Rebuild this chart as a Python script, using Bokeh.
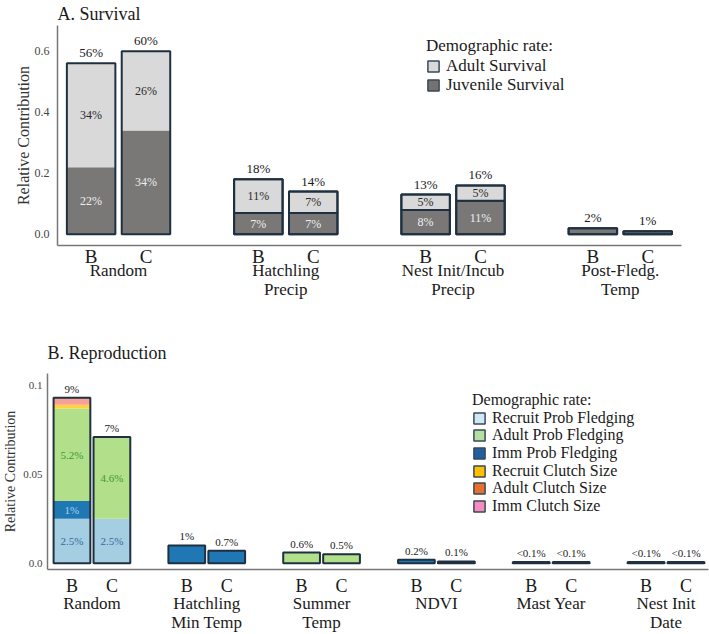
import numpy as np
from bokeh.plotting import figure
from bokeh.models import (ColumnDataSource, FixedTicker, LinearAxis, Legend,
                          LegendItem, Range1d)
from bokeh.layouts import column
from bokeh.embed import file_html
from bokeh.resources import INLINE
from bokeh.core.properties import value

SERIF = "Liberation Serif"
OUTLINE = "#1f3040"
TEXT = "#1a1a1a"

# ---------------- A. Survival ----------------
models = ["B", "C"]
surv_groups = ["Random", "Hatchling\nPrecip", "Nest Init/Incub\nPrecip", "Post-Fledg.\nTemp"]
# one entry per bar: (group 0, B), (group 0, C), (group 1, B), ...
juvenile_survival = [0.22, 0.34, 0.07, 0.07, 0.08, 0.11, 0.02, 0.01]
adult_survival = [0.34, 0.26, 0.11, 0.07, 0.05, 0.05, 0.0, 0.0]

# ---------------- B. Reproduction ----------------
repro_groups = ["Random", "Hatchling\nMin Temp", "Summer\nTemp", "NDVI", "Mast Year", "Nest Init\nDate"]
recruit_prob_fledging = [0.025, 0.025, 0, 0, 0, 0, 0, 0, 0.0007, 0.0007, 0.0007, 0.0007]
imm_prob_fledging = [0.010, 0, 0.010, 0.007, 0, 0, 0.002, 0.001, 0, 0, 0, 0]
adult_prob_fledging = [0.052, 0.046, 0, 0, 0.006, 0.005, 0, 0, 0, 0, 0, 0]
recruit_clutch_size = [0.002, 0, 0, 0, 0, 0, 0, 0, 0, 0, 0, 0]
adult_clutch_size = [0, 0, 0, 0, 0, 0, 0, 0, 0, 0, 0, 0]
imm_clutch_size = [0.004, 0, 0, 0, 0, 0, 0, 0, 0, 0, 0, 0]


def pct_total(v):
    if v < 0.001:
        return "<0.1%"
    if v >= 0.01:
        return f"{round(v * 100):d}%"
    return f"{v * 100:.1f}%"


def pct_seg(v):
    return f"{round(v * 100, 1):g}%"


def bar_positions(n_groups, dodge):
    xs, gi = [], []
    for g in range(n_groups):
        for d in (-dodge, dodge):
            xs.append(round(g + d, 4))
            gi.append(g)
    return xs, gi


def no_ticks(axis):
    axis.major_tick_out = 0
    axis.major_tick_in = 0
    axis.minor_tick_out = 0
    axis.minor_tick_in = 0


def style_axes(p, xs, groups, ylabel, yticks, ylabels, tick_size, lab_size,
               bc_size, grp_size, ylab_standoff, tick_standoff, bc_standoff, grp_standoff):
    p.xgrid.visible = False
    p.ygrid.visible = False
    p.outline_line_color = None

    yax = p.yaxis[0]
    yax.ticker = FixedTicker(ticks=yticks)
    yax.major_label_overrides = {t: s for t, s in zip(yticks, ylabels)}
    yax.axis_label = ylabel
    yax.axis_label_text_font = SERIF
    yax.axis_label_text_font_style = "normal"
    yax.axis_label_text_font_size = lab_size
    yax.axis_label_text_color = "#333333"
    yax.axis_label_standoff = ylab_standoff
    yax.major_label_text_font = SERIF
    yax.major_label_text_font_size = tick_size
    yax.major_label_text_color = "#444444"
    yax.major_label_standoff = tick_standoff
    no_ticks(yax)
    yax.axis_line_color = "#777777"
    yax.axis_line_width = 1.5

    xax = p.xaxis[0]
    xax.ticker = FixedTicker(ticks=xs)
    xax.major_label_overrides = {x: models[i % 2] for i, x in enumerate(xs)}
    xax.major_label_text_font = SERIF
    xax.major_label_text_font_size = bc_size
    xax.major_label_text_color = TEXT
    xax.major_label_standoff = bc_standoff
    no_ticks(xax)
    xax.axis_line_color = "#777777"
    xax.axis_line_width = 1.5

    gax = LinearAxis(ticker=FixedTicker(ticks=list(range(len(groups)))),
                     major_label_overrides={i: g for i, g in enumerate(groups)})
    gax.major_label_text_font = SERIF
    gax.major_label_text_font_size = grp_size
    gax.major_label_text_color = TEXT
    gax.major_label_text_line_height = 1.0
    gax.major_label_standoff = grp_standoff
    gax.axis_line_color = None
    no_ticks(gax)
    p.add_layout(gax, "below")


def draw_stack(p, xs, gi, series, colors, width, seg_line_alpha, outline_width):
    n = len(xs)
    base = np.zeros(n)
    for vals, col in zip(series, colors):
        vals = np.asarray(vals, dtype=float)
        keep = vals > 0
        src = ColumnDataSource(dict(
            x=[xs[i] for i in range(n) if keep[i]],
            bottom=base[keep],
            top=(base + vals)[keep],
            la=[seg_line_alpha(gi[i]) for i in range(n) if keep[i]],
        ))
        p.vbar(x="x", bottom="bottom", top="top", width=width, source=src,
               fill_color=col, line_color=OUTLINE, line_alpha="la",
               line_width=outline_width)
        base = base + vals
    # outline of each whole bar
    p.vbar(x=xs, bottom=0, top=base, width=width, fill_alpha=0,
           line_color=OUTLINE, line_width=outline_width)
    return base


def swatch(p, color):
    # legend key; its single point sits outside the visible x range
    return p.vbar(x=[-50], top=[0.0], width=0.1, fill_color=color,
                  line_color="#3a4a58", line_width=1.5)


def key_legend(p, label, renderer, loc, font_size, title=None):
    kw = dict(items=[LegendItem(label=label, renderers=[renderer])], location=loc,
              padding=0, margin=0, spacing=0, glyph_width=14, glyph_height=14,
              label_height=14, label_standoff=6, title_standoff=0,
              border_line_color=None, background_fill_alpha=0,
              label_text_font=SERIF, label_text_font_size=font_size,
              label_text_color=TEXT, title_text_font=SERIF,
              title_text_font_size=font_size, title_text_font_style="normal",
              title_text_color=TEXT)
    if title:
        kw["title"] = title
    p.add_layout(Legend(**kw))


def no_frame_align(p):
    if "frame_align" in p.properties():
        p.frame_align = False


# ======================= panel A =======================
xs_a, gi_a = bar_positions(len(surv_groups), 0.164)
pa = figure(width=709, height=307, output_backend="svg", toolbar_location=None,
            x_range=Range1d(-0.365, 3.366), y_range=Range1d(-0.0367, 0.684),
            min_border_left=57, min_border_right=28, min_border_top=20,
            min_border_bottom=62)
no_frame_align(pa)
pa.title.text = "A. Survival"
pa.title.text_font = SERIF
pa.title.text_font_size = "18px"
pa.title.text_font_style = "normal"
pa.title.text_color = TEXT
pa.title.standoff = 3

surv_colors = ["#7a7777", "#d9d9d9"]
tot_a = draw_stack(pa, xs_a, gi_a, [juvenile_survival, adult_survival], surv_colors,
                   0.29, lambda g: 0.0 if g == 0 else 1.0, 2)

pa.text(x=xs_a, y=list(tot_a), text=[pct_total(v) for v in tot_a],
        text_align="center", text_baseline="bottom", y_offset=-3,
        text_font=value(SERIF), text_font_size="13px", text_color=TEXT)

# labels inside two-part bars
jx, jy, jt, ax_, ay, at = [], [], [], [], [], []
for i in range(len(xs_a)):
    j, a = juvenile_survival[i], adult_survival[i]
    if j > 0 and a > 0:
        jx.append(xs_a[i]); jy.append(j / 2); jt.append(pct_seg(j))
        ax_.append(xs_a[i]); ay.append(j + a / 2); at.append(pct_seg(a))
pa.text(x=jx, y=jy, text=jt, text_align="center", text_baseline="middle",
        text_font=value(SERIF), text_font_size="12px", text_color="#eeeeee")
pa.text(x=ax_, y=ay, text=at, text_align="center", text_baseline="middle",
        text_font=value(SERIF), text_font_size="12px", text_color="#2a2a2a")

style_axes(pa, xs_a, surv_groups, "Relative Contribution",
           [0, 0.2, 0.4, 0.6], ["0.0", "0.2", "0.4", "0.6"],
           "12px", "16px", "19px", "17px", 0, 8, 0, -9)

key_legend(pa, "Adult Survival", swatch(pa, "#d9d9d9"), (369, 169), "17px",
           title="Demographic rate:")
key_legend(pa, "Juvenile Survival", swatch(pa, "#767171"), (369, 150), "17px")

# ======================= panel B =======================
xs_b, gi_b = bar_positions(len(repro_groups), 0.174)
pb = figure(width=709, height=327, output_backend="svg", toolbar_location=None,
            x_range=Range1d(-0.387, 5.37), y_range=Range1d(-0.0035, 0.1066),
            min_border_left=46, min_border_right=1, min_border_top=66,
            min_border_bottom=58)
no_frame_align(pb)
pb.title.text = "B. Reproduction"
pb.title.text_font = SERIF
pb.title.text_font_size = "18px"
pb.title.text_font_style = "normal"
pb.title.text_color = TEXT
pb.title.standoff = 22

repro_series = [recruit_prob_fledging, imm_prob_fledging, adult_prob_fledging,
                recruit_clutch_size, adult_clutch_size, imm_clutch_size]
repro_bar_colors = ["#a6cee3", "#1f78b4", "#b2df8a", "#ffd43b", "#f07a3a", "#f8a09a"]
tot_b = draw_stack(pb, xs_b, gi_b, repro_series, repro_bar_colors, 0.32,
                   lambda g: 0.0, 2)

pb.text(x=xs_b, y=list(tot_b), text=[pct_total(v) for v in tot_b],
        text_align="center", text_baseline="bottom", y_offset=-3,
        text_font=value(SERIF), text_font_size="11px", text_color=TEXT)

seg_text_colors = ["#2f6c9c", "#a8d0f0", "#3f9a2f"]
for k, col in enumerate(seg_text_colors):
    base = np.sum(np.array(repro_series[:k], dtype=float), axis=0) if k else np.zeros(len(xs_b))
    vals = np.asarray(repro_series[k], dtype=float)
    sx, sy, st = [], [], []
    for i in range(len(xs_b)):
        n_parts = sum(1 for s in repro_series if s[i] > 0)
        if vals[i] >= 0.005 and n_parts > 1:
            sx.append(xs_b[i]); sy.append(base[i] + vals[i] / 2); st.append(pct_seg(vals[i]))
    pb.text(x=sx, y=sy, text=st, text_align="center", text_baseline="middle",
            text_font=value(SERIF), text_font_size="11px", text_color=col)

style_axes(pb, xs_b, repro_groups, "Relative Contribution",
           [0, 0.05, 0.1], ["0.0", "0.05", "0.1"],
           "11px", "14px", "18px", "17px", 2, 5, 6, -5)

legend_names = ["Recruit Prob Fledging", "Adult Prob Fledging", "Imm Prob Fledging",
                "Recruit Clutch Size", "Adult Clutch Size", "Imm Clutch Size"]
legend_colors = ["#cfe8f7", "#b5e0a0", "#1f5f9f", "#ffc000", "#e8702f", "#f58cbf"]
for k, (name, col) in enumerate(zip(legend_names, legend_colors)):
    key_legend(pb, name, swatch(pb, col), (425, round(142.5 - 17.7 * k, 1)), "16px",
               title="Demographic rate:" if k == 0 else None)

layout = column(pa, pb, spacing=0)
open("out.html", "w").write(file_html(layout, INLINE))
